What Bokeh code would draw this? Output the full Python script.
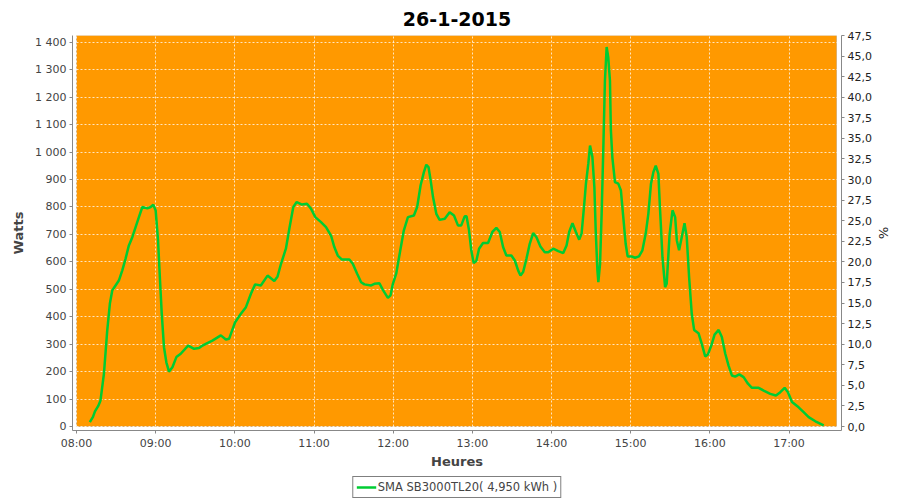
import pandas as pd
from bokeh.plotting import figure
from bokeh.layouts import column
from bokeh.models import (Range1d, LinearAxis, SingleIntervalTicker, FixedTicker, BoxAnnotation,
                          CustomJSTickFormatter, DatetimeTickFormatter, Legend, LegendItem)
from bokeh.embed import file_html
from bokeh.resources import INLINE

title = "26-1-2015"
series_label = "SMA SB3000TL20( 4,950 kWh )"
day = "2015-01-26"

# minutes after 08:00, power in watts
minutes = [10.1, 12.5, 14.0, 16.5, 18.2, 20.8, 23.3, 25.3, 27.1, 29.6, 32.1, 34.7, 37.2, 39.7,
           42.3, 44.8, 47.3, 49.9, 53.7, 56.2, 58.2, 60.0, 61.8, 63.3, 64.6, 66.3, 68.1, 70.1,
           72.7, 75.7, 79.0, 84.6, 89.1, 92.9, 95.5, 98.0, 103.0, 109.4, 113.2, 115.7, 120.2,
           124.6, 128.4, 132.2, 135.4, 139.7, 144.8, 149.9, 152.4, 155.0, 158.7, 161.3, 164.3,
           166.9, 170.9, 174.7, 177.7, 181.0, 185.3, 189.1, 192.9, 195.4, 198.0, 201.0, 206.8,
           209.4, 212.7, 215.7, 218.2, 223.3, 225.8, 229.6, 232.2, 236.0, 238.0, 239.8, 242.3,
           245.6, 248.1, 251.2, 255.7, 258.2, 260.8, 263.3, 265.1, 266.8, 268.4, 270.2, 272.7,
           275.2, 279.1, 282.8, 286.1, 289.1, 291.6, 294.2, 295.6, 297.5, 299.2, 301.0, 303.0,
           305.1, 308.1, 311.9, 315.2, 318.2, 320.8, 323.3, 325.8, 329.6, 332.2, 334.7, 336.5,
           338.5, 341.0, 343.5, 346.1, 348.6, 351.6, 354.9, 357.5, 361.3, 365.1, 368.9, 371.4,
           373.4, 375.9, 378.5, 381.0, 382.8, 384.8, 386.1, 387.9, 389.2, 391.0, 392.5, 393.5,
           394.8, 395.5, 396.8, 398.0, 399.3, 400.5, 401.8, 403.0, 404.3, 405.0, 406.1, 408.1,
           410.6, 412.6, 414.4, 416.2, 417.7, 420.8, 423.3, 426.3, 428.9, 431.4, 433.4, 435.4,
           437.2, 439.0, 441.0, 442.3, 444.1, 446.1, 447.3, 449.5, 451.7, 453.7, 455.0, 456.7,
           458.7, 460.8, 462.5, 464.3, 466.3, 468.1, 471.4, 473.9, 476.5, 478.5, 481.1, 483.6,
           486.7, 489.1, 491.7, 494.2, 496.7, 499.2, 502.3, 505.6, 508.9, 511.9, 517.0, 520.8,
           525.8, 530.1, 533.4, 536.7, 539.2, 542.3, 547.3, 551.1, 554.9, 560.0, 566.3]
watts = [16, 35, 55, 75, 95, 193, 350, 448, 496, 514, 532, 569, 612, 660,
         690, 727, 763, 800, 795, 800, 808, 787, 678, 532, 412, 289, 234, 200,
         216, 253, 265, 295, 283, 286, 295, 301, 313, 332, 317, 320, 380,
         411, 435, 484, 518, 514, 550, 530, 547, 593, 648, 721, 800,
         818, 809, 812, 794, 763, 745, 727, 696, 654, 623, 609, 609,
         593, 557, 526, 518, 514, 520, 522, 498, 469, 478, 520, 557,
         648, 715, 763, 769, 800, 879, 927, 954, 945, 897, 836, 775,
         753, 757, 781, 769, 733, 733, 766, 766, 715, 642, 596, 603,
         648, 669, 669, 709, 724, 709, 654, 623, 623, 605, 569, 550,
         563, 611, 666, 705, 690, 656, 635, 635, 648, 639, 632, 660,
         709, 741, 709, 681, 703, 810, 885, 958, 1024, 982, 872, 715,
         569, 526, 593, 775, 1018, 1261, 1383, 1346, 1261, 1079, 982, 891,
         885, 860, 763, 666, 620, 620, 615, 620, 642, 703, 775, 885,
         927, 951, 921, 788, 617, 508, 520, 700, 788, 763, 678, 642,
         690, 741, 690, 544, 411, 352, 340, 301, 255, 262, 295, 335,
         352, 326, 265, 222, 186, 182, 190, 180, 156, 141, 141, 131,
         119, 113, 125, 141, 125, 89, 70, 52, 34, 19, 4]

hour_ticks = ["08:00", "09:00", "10:00", "11:00", "12:00", "13:00", "14:00", "15:00", "16:00", "17:00"]
x_start, x_end = "08:00", "17:36"
watts_max = 1425
inverter_watts = 3000

GREEN = "#00CC33"
ORANGE = "#FF9900"
FONT = "DejaVu Sans"

base = pd.Timestamp(day)
start = base + pd.Timedelta(hours=8)
times = [start + pd.Timedelta(minutes=m) for m in minutes]

def ms(ts):
    return (ts - pd.Timestamp("1970-01-01")).total_seconds() * 1000.0

x0 = ms(base + pd.Timedelta(x_start + ":00"))
x1 = ms(base + pd.Timedelta(x_end + ":00"))

# layout (px): axis lines sit 4px away from the orange data area
ML, MR, MT, MB = 72, 59, 35, 43
W, H = 900, 473
GAP_L, GAP_R, GAP_B = 4, 5, 4
area_w = W - ML - MR - GAP_L - GAP_R
area_h = H - MT - MB - GAP_B
xs = (x1 - x0) / area_w
ys = watts_max / area_h

p = figure(width=W, height=H, x_axis_type="datetime", output_backend="svg",
           toolbar_location=None,
           x_range=Range1d(x0 - GAP_L * xs, x1 + GAP_R * xs),
           y_range=Range1d(-GAP_B * ys, watts_max),
           min_border_left=ML, min_border_right=MR, min_border_top=MT, min_border_bottom=MB)
p.background_fill_color = "white"
p.border_fill_color = "white"
p.outline_line_color = None

area = BoxAnnotation(left=x0, right=x1, bottom=0, top=watts_max, fill_color=ORANGE,
                     fill_alpha=1.0, line_color="#8a6a40", line_width=1, level="image")
p.add_layout(area)

p.title.text = title
p.title.align = "center"
p.title.text_font = FONT
p.title.text_font_size = "19px"
p.title.text_font_style = "bold"
p.title.text_color = "black"
p.title.standoff = 19

p.extra_y_ranges = {"pct": Range1d(-GAP_B * ys / inverter_watts * 100,
                                   watts_max / inverter_watts * 100)}
right = LinearAxis(y_range_name="pct", axis_label="%")
p.add_layout(right, "right")

r = p.line(times, watts, line_color=GREEN, line_width=2.5)

p.xaxis.ticker = FixedTicker(ticks=[ms(base + pd.Timedelta(h + ":00")) for h in hour_ticks])
p.xaxis.formatter = DatetimeTickFormatter(hours="%H:%M", minutes="%H:%M", days="%H:%M")
p.xaxis.axis_label = "Heures"

p.yaxis[0].ticker = SingleIntervalTicker(interval=100, num_minor_ticks=0)
p.yaxis[0].formatter = CustomJSTickFormatter(
    code="return tick.toFixed(0).replace(/\\B(?=(\\d{3})+(?!\\d))/g, ' ');")
p.yaxis[0].axis_label = "Watts"
right.ticker = SingleIntervalTicker(interval=2.5, num_minor_ticks=0)
right.formatter = CustomJSTickFormatter(code="return tick.toFixed(1).replace('.', ',');")

for ax in [p.xaxis[0], p.yaxis[0], right]:
    ax.axis_line_color = "#888888"
    ax.major_tick_line_color = "#888888"
    ax.major_tick_out = 3
    ax.major_tick_in = 0
    ax.minor_tick_line_color = None
    ax.major_label_text_font = FONT
    ax.major_label_text_font_size = "11px"
    ax.major_label_text_color = "#444444"
    ax.axis_label_text_font = FONT
    ax.axis_label_text_font_size = "13px"
    ax.axis_label_text_font_style = "bold"
    ax.axis_label_text_color = "#444444"
    ax.major_label_standoff = 3
    ax.axis_label_standoff = 1
p.yaxis[0].axis_label_standoff = 6
right.major_label_text_color = "#222222"
right.axis_label_text_font_style = "normal"
right.axis_label_text_font_size = "13px"
right.axis_label_text_color = "#222222"

for g in [p.xgrid[0], p.ygrid[0]]:
    g.grid_line_color = "white"
    g.grid_line_alpha = 0.75
    g.grid_line_dash = "2 2"
    g.grid_line_width = 1
p.xgrid[0].ticker = p.xaxis[0].ticker
p.ygrid[0].ticker = p.yaxis[0].ticker

# legend strip under the chart (the series is drawn here outside the visible range,
# only its legend sample shows)
lg = figure(width=W, height=500 - H, output_backend="svg", toolbar_location=None,
            x_axis_location=None, y_axis_location=None, min_border=0,
            x_range=Range1d(0, 1), y_range=Range1d(0, 1))
lg.grid.visible = False
lg.outline_line_color = None
lg.background_fill_color = "white"
sample = lg.line(x=[ms(t) for t in times], y=watts, line_color=GREEN, line_width=2.5)
legend = Legend(items=[LegendItem(label=series_label, renderers=[sample])],
                orientation="horizontal", location="center",
                border_line_color="black", border_line_width=1,
                label_text_font=FONT, label_text_font_size="11.5px",
                label_text_color="#444444", glyph_width=20, glyph_height=10,
                padding=3, margin=0, spacing=0, label_standoff=2)
lg.add_layout(legend, "center")

layout = column(p, lg, spacing=0)
open("out.html", "w").write(file_html(layout, INLINE))
